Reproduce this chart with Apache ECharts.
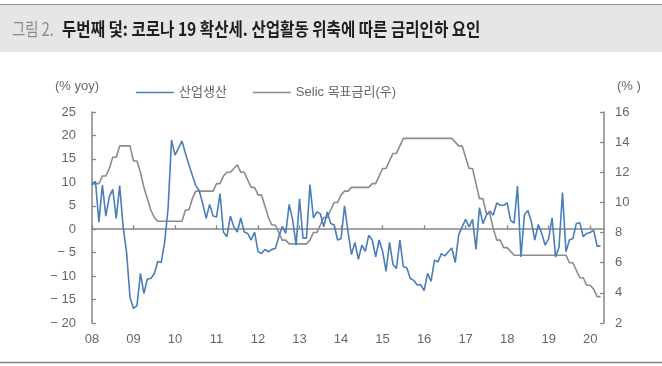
<!DOCTYPE html>
<html><head><meta charset="utf-8">
<script src="https://cdn.jsdelivr.net/npm/echarts@6/dist/echarts.min.js"></script>
<style>html,body{margin:0;padding:0;background:#fff}#c{width:662px;height:366px}</style>
</head><body><div id="c"></div>
<script>
// Year tick labels (one per January)
const yearLabels = ['08','09','10','11','12','13','14','15','16','17','18','19','20'];
const monthNames = ['01','02','03','04','05','06','07','08','09','10','11','12'];
// Brazil industrial production, % yoy (left axis), Jan 2008 - Apr 2020
const industrialProduction = [
  9.4, 10.2, 1.5, 9.4, 2.8, 6.9, 8.5, 2.3, 9.3, 0.5, -5.0, -14.6,
  -16.9, -16.3, -9.4, -13.7, -10.6, -10.5, -9.5, -6.9, -7.1, -2.8, 4.5, 19.0,
  15.8, 17.3, 18.8, 16.2, 13.8, 11.5, 9.3, 8.2, 5.5, 2.3, 5.3, 2.8,
  2.6, 7.6, -0.6, -1.6, 2.8, 0.5, -0.6, 2.4, -0.6, -0.9, -2.3, -0.6,
  -4.8, -5.2, -4.3, -4.8, -4.3, -4.1, -1.6, 0.6, -0.9, 5.3, 2.0, -3.4,
  6.5, -1.9, -1.9, 9.5, 2.4, 3.7, 3.3, 0.5, 3.7, 1.2, 0.9, -2.3,
  -2.0, 5.0, -0.5, -5.4, -2.8, -6.4, -3.4, -4.7, -1.3, -2.3, -5.9, -2.3,
  -4.7, -9.0, -2.8, -7.5, -8.4, -2.3, -8.0, -8.2, -10.5, -10.9, -11.9, -11.8,
  -13.1, -9.4, -11.1, -6.6, -7.0, -5.2, -5.7, -4.8, -4.0, -7.1, -1.2, 0.5,
  2.1, 0.5, 2.1, -4.3, 4.6, 1.2, 3.0, 3.9, 3.0, 5.6, 5.1, 5.1,
  5.6, 1.9, 1.3, 9.2, -5.9, 3.1, 4.0, 1.6, -2.3, 1.0, -0.9, -3.4,
  -2.0, 2.4, -5.9, -3.8, 7.8, -4.8, -2.3, -2.0, 1.2, 1.4, -1.6, -0.9,
  -0.7, -0.2, -3.6, -3.6
];
// Selic target rate, % (right axis), Jan 2008 - Apr 2020
const selicRate = [
  11.25, 11.25, 11.25, 11.75, 11.75, 12.25, 13.0, 13.0, 13.75, 13.75, 13.75, 13.75,
  12.75, 12.75, 12.0, 11.0, 10.25, 9.5, 9.0, 8.75, 8.75, 8.75, 8.75, 8.75,
  8.75, 8.75, 8.75, 9.5, 9.5, 10.25, 10.75, 10.75, 10.75, 10.75, 10.75, 10.75,
  11.25, 11.25, 11.75, 12.0, 12.0, 12.25, 12.5, 12.0, 12.0, 11.5, 11.0, 11.0,
  10.5, 10.5, 9.75, 9.0, 8.5, 8.5, 8.0, 7.5, 7.5, 7.25, 7.25, 7.25,
  7.25, 7.25, 7.25, 7.5, 8.0, 8.0, 8.5, 9.0, 9.0, 9.5, 10.0, 10.0,
  10.5, 10.75, 10.75, 11.0, 11.0, 11.0, 11.0, 11.0, 11.0, 11.25, 11.25, 11.75,
  12.25, 12.25, 12.75, 13.25, 13.25, 13.75, 14.25, 14.25, 14.25, 14.25, 14.25, 14.25,
  14.25, 14.25, 14.25, 14.25, 14.25, 14.25, 14.25, 14.25, 14.25, 14.0, 13.75, 13.75,
  13.0, 12.25, 12.25, 11.25, 10.25, 10.25, 9.25, 9.25, 8.25, 7.5, 7.5, 7.0,
  7.0, 6.75, 6.5, 6.5, 6.5, 6.5, 6.5, 6.5, 6.5, 6.5, 6.5, 6.5,
  6.5, 6.5, 6.5, 6.5, 6.5, 6.5, 6.0, 6.0, 5.5, 5.0, 5.0, 4.5,
  4.5, 4.25, 3.75, 3.75
];
const seriesNames = ['산업생산', 'Selic 목표금리(우)'];
const leftAxisRange = [-20, 25, 5];
const rightAxisRange = [2, 16, 2];

// Monthly categories Jan 2008 .. May 2020
const categories = [];
yearLabels.forEach(y => monthNames.forEach(m => categories.push(y + '.' + m)));
categories.length = 149;

const AX = '#878787';
const TXT = '#666666';
const NUMFONT = 'Liberation Sans, Arial, sans-serif';
const KRFONT = 'Liberation Sans, Noto Sans CJK KR, sans-serif';
const isJan = (i) => i % 12 === 0;

const chart = echarts.init(document.getElementById('c'), null, {renderer: 'canvas'});
chart.setOption({
  animation: false,
  backgroundColor: '#ffffff',
  grid: {left: 92, right: 58, top: 112, bottom: 43, containLabel: false},
  legend: {
    data: seriesNames,
    left: 131, top: 81,
    itemWidth: 38, itemHeight: 14, itemGap: 26,
    textStyle: {color: TXT, fontSize: 13, fontFamily: KRFONT},
    icon: 'path://M0,6 L38,6 L38,7.5 L0,7.5 Z'
  },
  xAxis: [
    {
      type: 'category', data: categories, boundaryGap: false, position: 'bottom',
      axisLine: {onZero: true, lineStyle: {color: AX, width: 1.5}},
      axisTick: {show: true, inside: true, length: 4, interval: isJan, lineStyle: {color: AX, width: 1.3}},
      axisLabel: {show: false},
      splitLine: {show: false}
    },
    {
      type: 'category', data: categories, boundaryGap: false, position: 'bottom',
      axisLine: {show: false, onZero: false},
      axisTick: {show: false},
      axisLabel: {
        show: true, interval: isJan, margin: 10,
        color: TXT, fontSize: 13, fontFamily: NUMFONT,
        formatter: (v, i) => isJan(i) ? yearLabels[i / 12] : ''
      },
      splitLine: {show: false}
    }
  ],
  yAxis: [
    {
      type: 'value', position: 'left',
      min: leftAxisRange[0], max: leftAxisRange[1], interval: leftAxisRange[2],
      axisLine: {show: true, lineStyle: {color: AX, width: 1.5}},
      axisTick: {show: true, inside: true, length: 4, lineStyle: {color: AX, width: 1.3}},
      axisLabel: {color: TXT, fontSize: 13, fontFamily: NUMFONT, margin: 16,
        formatter: v => v < 0 ? '\u2212 ' + Math.abs(v) : String(v)},
      splitLine: {show: false}
    },
    {
      type: 'value', position: 'right',
      min: rightAxisRange[0], max: rightAxisRange[1], interval: rightAxisRange[2],
      axisLine: {show: true, lineStyle: {color: AX, width: 1.5}},
      axisTick: {show: true, inside: true, length: 4, lineStyle: {color: AX, width: 1.3}},
      axisLabel: {color: TXT, fontSize: 13, fontFamily: NUMFONT, margin: 11},
      splitLine: {show: false}
    }
  ],
  series: [
    {
      name: seriesNames[1], type: 'line', xAxisIndex: 0, yAxisIndex: 1,
      data: selicRate, symbol: 'none', showSymbol: false,
      lineStyle: {color: '#8c8c8c', width: 1.6}, itemStyle: {color: '#8c8c8c'}, z: 2
    },
    {
      name: seriesNames[0], type: 'line', xAxisIndex: 0, yAxisIndex: 0,
      data: industrialProduction, symbol: 'none', showSymbol: false,
      lineStyle: {color: '#4a7ebb', width: 1.6}, itemStyle: {color: '#4a7ebb'}, z: 3
    }
  ],
  graphic: [
    {type: 'rect', shape: {x: 0, y: 5, width: 662, height: 47}, style: {fill: '#e6e6e6'}, silent: true},
    {type: 'line', shape: {x1: 0, y1: 4.5, x2: 662, y2: 4.5}, style: {stroke: '#8397b4', lineWidth: 1}, silent: true},
    {type: 'text', x: 12, y: 29, scaleX: 0.8,
      style: {text: '그림 2.', fill: '#8a8a8a', font: '18px "Noto Sans CJK KR", sans-serif', verticalAlign: 'middle'}},
    {type: 'text', x: 62, y: 29, scaleX: 0.865,
      style: {text: '두번째 덫: 코로나 19 확산세. 산업활동 위축에 따른 금리인하 요인', fill: '#1e1e1e', font: 'bold 18px "Noto Sans CJK KR", sans-serif', verticalAlign: 'middle'}},
    {type: 'text', x: 55, y: 86,
      style: {text: '(% yoy)', fill: TXT, font: '13px "Liberation Sans", Arial, sans-serif', verticalAlign: 'middle'}},
    {type: 'text', x: 617, y: 86,
      style: {text: '(% )', fill: TXT, font: '13px "Liberation Sans", Arial, sans-serif', verticalAlign: 'middle'}},
    {type: 'line', shape: {x1: 0, y1: 362.5, x2: 662, y2: 362.5}, style: {stroke: '#7f7f7f', lineWidth: 1.5}, silent: true}
  ]
});
</script>
</body></html>
